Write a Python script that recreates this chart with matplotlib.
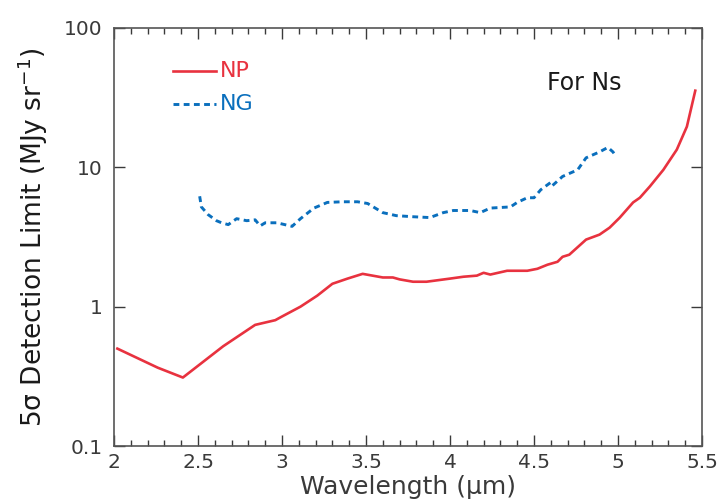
import numpy as np
import matplotlib
matplotlib.use("Agg")
import matplotlib.pyplot as plt
from matplotlib.ticker import FixedLocator, MultipleLocator, NullLocator, FuncFormatter

# NP curve (red, solid)
np_wave = [2.02, 2.26, 2.41, 2.65, 2.84, 2.96, 3.00, 3.11, 3.21, 3.30, 3.39, 3.48,
           3.60, 3.66, 3.70, 3.78, 3.86, 4.00, 4.08, 4.16, 4.20, 4.24, 4.34, 4.46,
           4.52, 4.58, 4.64, 4.67, 4.71, 4.81, 4.89, 4.95, 5.01, 5.09, 5.13, 5.19,
           5.27, 5.35, 5.41, 5.46]
np_limit = [0.50, 0.365, 0.31, 0.52, 0.74, 0.80, 0.85, 1.0, 1.2, 1.46, 1.59, 1.72,
            1.62, 1.62, 1.57, 1.51, 1.51, 1.59, 1.64, 1.67, 1.75, 1.70, 1.81, 1.81,
            1.87, 2.0, 2.1, 2.28, 2.36, 3.03, 3.29, 3.69, 4.35, 5.6, 6.05, 7.3,
            9.6, 13.4, 19.6, 35.5]

# NG curve (blue, dashed)
ng_wave = [2.51, 2.52, 2.56, 2.61, 2.64, 2.68, 2.73, 2.79, 2.84, 2.87, 2.90, 2.97,
           3.06, 3.11, 3.19, 3.27, 3.36, 3.45, 3.51, 3.60, 3.68, 3.78, 3.88, 3.96,
           4.02, 4.12, 4.18, 4.24, 4.36, 4.40, 4.46, 4.50, 4.54, 4.60, 4.61, 4.67,
           4.76, 4.81, 4.89, 4.94, 4.97, 4.99]
ng_limit = [6.2, 5.2, 4.58, 4.14, 4.0, 3.88, 4.28, 4.14, 4.2, 3.8, 4.0, 4.0,
            3.77, 4.28, 5.1, 5.6, 5.66, 5.66, 5.5, 4.73, 4.5, 4.42, 4.36, 4.73,
            4.9, 4.9, 4.73, 5.1, 5.2, 5.6, 6.05, 6.05, 6.9, 7.8, 7.4, 8.6,
            9.6, 11.7, 12.9, 13.9, 12.9, 11.9]

RED = "#e8323f"
BLUE = "#0a6fbd"
GREY = "#3a3a3a"
DASH = (0, (2.0, 1.5))

plt.rcParams["font.family"] = ["DejaVu Sans"]

fig = plt.figure(figsize=(7.23, 5.04), dpi=100)
ax = fig.add_axes([114 / 723, 1 - 446 / 504, 588 / 723, 418 / 504])

ax.plot(np_wave, np_limit, color=RED, lw=1.9)
ax.plot(ng_wave, ng_limit, color=BLUE, lw=2.1, linestyle=DASH)

ax.set_yscale("log")
ax.set_xlim(2, 5.5)
ax.set_ylim(0.1, 100)

ax.xaxis.set_major_locator(MultipleLocator(0.5))
ax.xaxis.set_minor_locator(MultipleLocator(0.1))
ax.xaxis.set_major_formatter(FuncFormatter(lambda v, p: f"{v:g}"))
ax.yaxis.set_major_locator(FixedLocator([0.1, 1, 10, 100]))
ax.yaxis.set_minor_locator(NullLocator())
ax.yaxis.set_major_formatter(FuncFormatter(lambda v, p: f"{v:g}"))

ax.tick_params(which="both", direction="in", top=True, right=True,
               colors=GREY, labelcolor=GREY, width=1)
ax.tick_params(which="major", length=8, labelsize=14.5)
ax.tick_params(which="minor", length=4)
ax.tick_params(axis="x", which="major", pad=5)
ax.tick_params(axis="y", which="major", pad=8)
for s in ax.spines.values():
    s.set_color("#555555")
    s.set_linewidth(1.2)

ax.set_xlabel("Wavelength (\u03bcm)", fontsize=18, color=GREY, labelpad=2)
ax.set_ylabel("5\u03c3 Detection Limit (MJy sr$^{-1}$)", fontsize=19,
              color="#1a1a1a", labelpad=10)

# in-axes legend
ax.plot([0.100, 0.173], [0.897, 0.897], color=RED, lw=1.9, transform=ax.transAxes)
ax.text(0.180, 0.897, "NP", color=RED, fontsize=16, va="center",
        transform=ax.transAxes)
ax.plot([0.100, 0.173], [0.818, 0.818], color=BLUE, lw=2.1,
        linestyle=DASH, transform=ax.transAxes)
ax.text(0.180, 0.818, "NG", color=BLUE, fontsize=16, va="center",
        transform=ax.transAxes)

ax.text(0.736, 0.868, "For Ns", color="#1a1a1a", fontsize=17, va="center",
        transform=ax.transAxes)

fig.savefig("out.png", dpi=100)
